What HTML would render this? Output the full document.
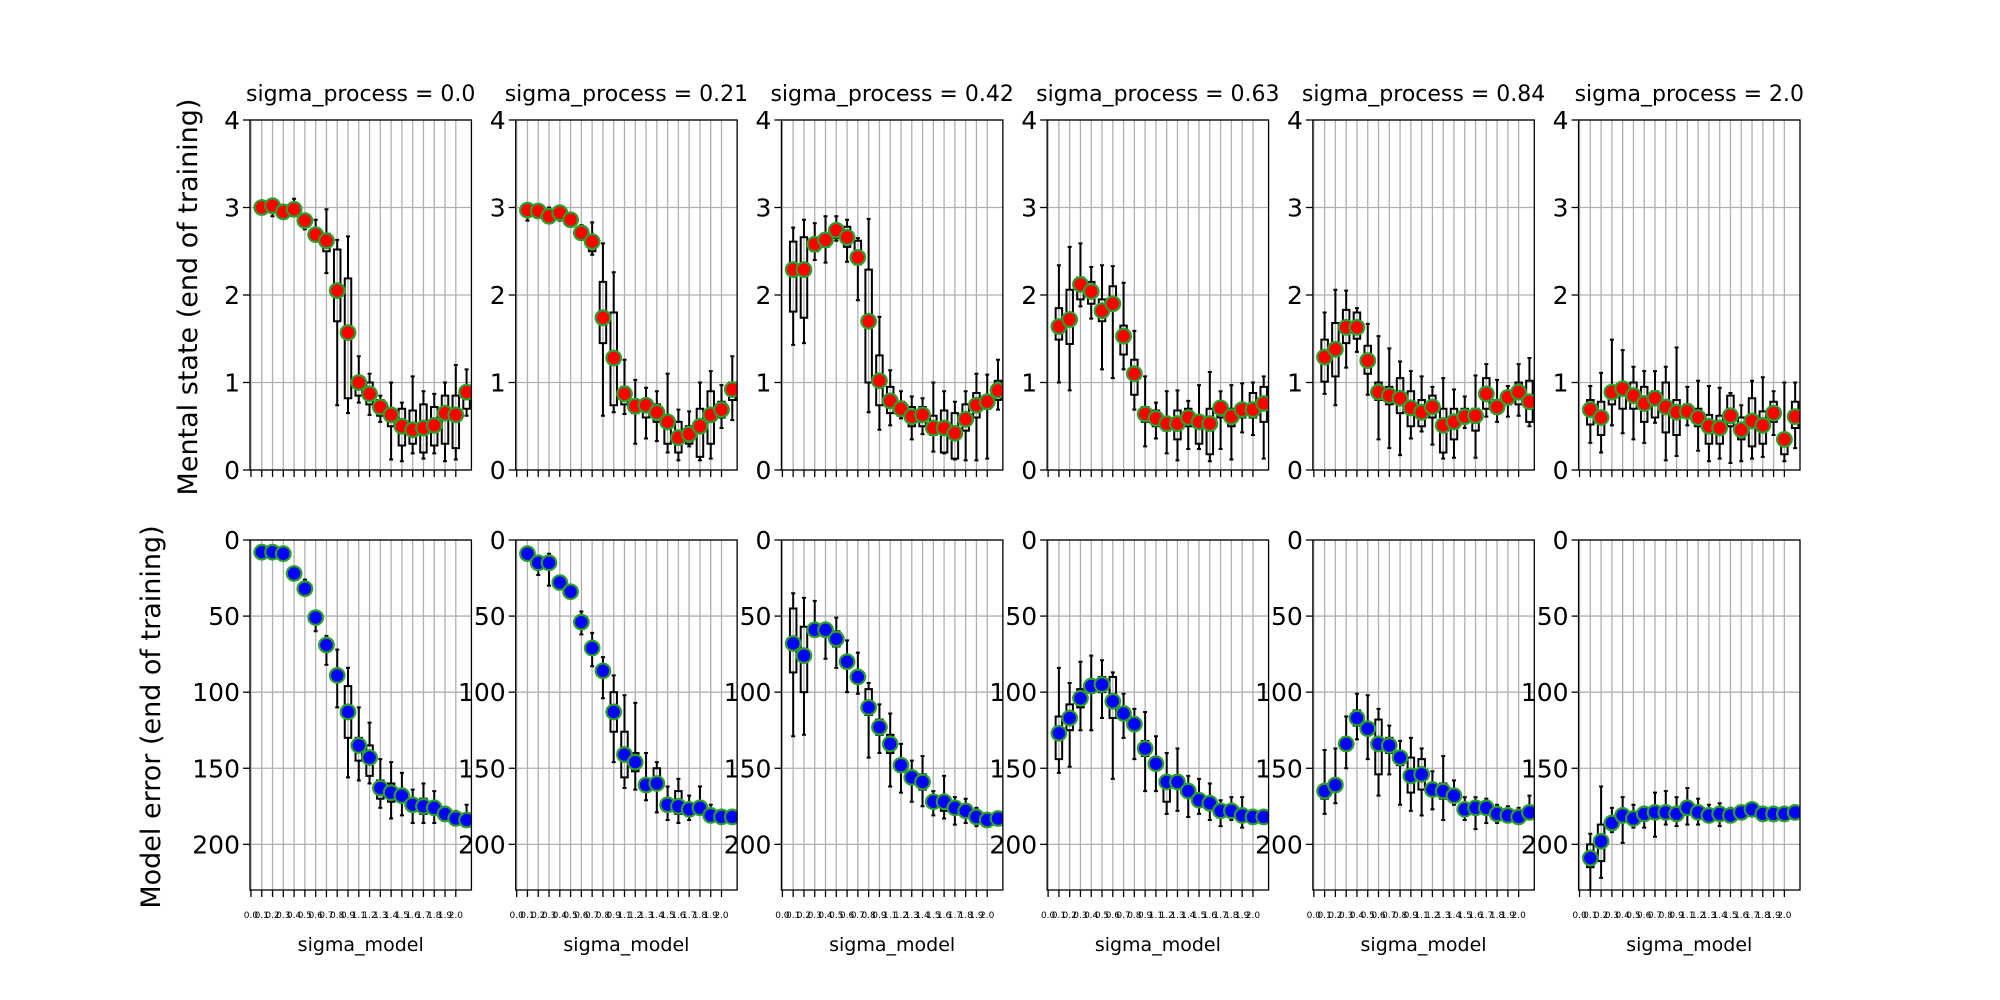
<!DOCTYPE html>
<html><head><meta charset="utf-8"><style>
html,body{margin:0;padding:0;background:#fff;}
svg{display:block;font-family:"DejaVu Sans","Liberation Sans",sans-serif;}
</style></head><body>
<svg id="fig" width="2000" height="1000" viewBox="0 0 2000 1000" xmlns="http://www.w3.org/2000/svg">
<rect width="2000" height="1000" fill="#fff"/>
</svg>
<script>
const panelTitles = ["sigma_process = 0.0","sigma_process = 0.21","sigma_process = 0.42","sigma_process = 0.63","sigma_process = 0.84","sigma_process = 2.0"];
const xTickLabels = ["0.0","0.1","0.2","0.3","0.4","0.5","0.6","0.7","0.8","0.9","1.1","1.2","1.3","1.4","1.5","1.6","1.7","1.8","1.9","2.0"];
const mentalTicks = [0,1,2,3,4];
const errorTicks = [0,50,100,150,200];

const mentalMean = [
[3.0,3.02,2.95,2.98,2.85,2.69,2.62,2.05,1.57,1.0,0.87,0.72,0.63,0.5,0.46,0.48,0.51,0.65,0.63,0.89],
[2.97,2.96,2.9,2.94,2.86,2.71,2.61,1.74,1.28,0.87,0.73,0.74,0.66,0.55,0.37,0.41,0.5,0.63,0.69,0.92],
[2.29,2.29,2.58,2.63,2.74,2.66,2.43,1.7,1.02,0.79,0.7,0.61,0.63,0.48,0.48,0.42,0.58,0.74,0.78,0.91],
[1.64,1.72,2.12,2.04,1.82,1.9,1.53,1.1,0.64,0.59,0.53,0.53,0.6,0.55,0.53,0.71,0.61,0.69,0.69,0.76],
[1.29,1.38,1.63,1.63,1.25,0.89,0.85,0.82,0.71,0.66,0.72,0.51,0.55,0.61,0.62,0.87,0.72,0.83,0.89,0.78],
[0.69,0.6,0.89,0.93,0.85,0.76,0.82,0.72,0.66,0.67,0.6,0.5,0.48,0.62,0.46,0.56,0.51,0.65,0.35,0.61]];
const mentalLo = [
[2.97,2.9,2.88,2.9,2.75,2.65,2.25,0.74,0.65,0.77,0.63,0.55,0.12,0.1,0.19,0.13,0.19,0.1,0.12,0.62],
[2.85,2.9,2.88,2.85,2.78,2.65,2.46,0.62,0.66,0.64,0.3,0.36,0.33,0.2,0.11,0.27,0.11,0.13,0.48,0.57],
[1.43,1.45,2.4,2.37,2.62,2.38,1.94,0.66,0.46,0.51,0.59,0.35,0.41,0.21,0.19,0.12,0.11,0.11,0.13,0.69],
[1.0,0.91,1.87,1.73,1.15,1.05,1.15,0.69,0.27,0.36,0.19,0.11,0.24,0.24,0.1,0.24,0.12,0.43,0.4,0.13],
[0.87,0.74,1.17,1.35,0.86,0.35,0.25,0.17,0.36,0.44,0.29,0.13,0.14,0.48,0.14,0.61,0.55,0.61,0.62,0.5],
[0.31,0.2,0.51,0.42,0.35,0.31,0.54,0.11,0.16,0.51,0.22,0.1,0.13,0.08,0.1,0.13,0.15,0.4,0.1,0.25]];
const mentalHi = [
[3.03,3.05,3.0,3.1,2.9,2.86,2.98,2.63,2.67,1.3,1.1,0.85,1.0,0.77,1.07,0.9,0.87,1.0,1.2,1.15],
[3.0,3.0,3.0,3.0,2.91,2.8,2.83,2.59,2.26,1.26,1.03,0.94,0.9,1.1,0.69,0.67,1.0,1.13,0.97,1.3],
[2.77,2.86,2.82,2.9,2.9,2.86,2.65,2.87,1.75,1.14,0.9,0.84,0.82,1.0,0.9,0.78,0.9,1.1,1.09,1.26],
[2.34,2.55,2.59,2.32,2.34,2.33,2.14,1.59,1.07,0.77,0.9,0.91,0.79,0.97,1.12,0.9,0.97,0.99,1.0,1.07],
[1.8,2.06,2.05,1.85,1.67,1.53,1.39,1.24,1.13,1.07,0.95,1.05,0.92,0.84,1.08,1.21,1.03,0.96,1.21,1.28],
[0.96,1.11,1.49,1.37,1.18,1.13,1.13,1.18,1.4,0.95,1.02,0.96,0.94,0.88,0.74,1.02,1.06,0.9,1.0,1.0]];
const mentalQ1 = [
[2.98,2.95,2.92,2.93,2.8,2.67,2.5,1.7,0.82,0.85,0.75,0.62,0.5,0.28,0.3,0.2,0.28,0.3,0.25,0.7],
[2.9,2.93,2.9,2.9,2.8,2.68,2.5,1.45,0.74,0.75,0.65,0.6,0.55,0.3,0.2,0.3,0.15,0.3,0.6,0.8],
[1.81,1.74,2.5,2.55,2.65,2.55,2.35,1.0,0.74,0.65,0.62,0.5,0.5,0.4,0.2,0.13,0.45,0.6,0.7,0.8],
[1.49,1.44,1.95,1.9,1.7,1.85,1.32,0.86,0.55,0.5,0.45,0.35,0.5,0.3,0.18,0.6,0.5,0.6,0.6,0.55],
[1.01,1.07,1.45,1.5,1.1,0.8,0.75,0.65,0.5,0.5,0.6,0.2,0.35,0.55,0.45,0.7,0.65,0.75,0.75,0.55],
[0.52,0.4,0.75,0.7,0.7,0.55,0.6,0.43,0.4,0.6,0.5,0.3,0.3,0.5,0.35,0.27,0.3,0.55,0.18,0.48]];
const mentalQ3 = [
[3.02,3.02,2.98,3.02,2.87,2.75,2.7,2.52,2.19,1.05,1.0,0.8,0.7,0.7,0.68,0.75,0.72,0.85,0.85,0.95],
[2.99,2.99,2.96,2.98,2.88,2.76,2.68,2.15,1.8,0.95,0.8,0.8,0.75,0.6,0.55,0.5,0.7,0.9,0.78,1.0],
[2.61,2.66,2.65,2.7,2.8,2.78,2.62,2.29,1.31,0.95,0.78,0.72,0.72,0.62,0.68,0.65,0.75,0.88,0.85,1.02],
[1.85,2.06,2.2,2.15,1.95,2.1,1.65,1.26,0.72,0.68,0.6,0.68,0.7,0.6,0.7,0.78,0.7,0.75,0.88,0.95],
[1.49,1.68,1.83,1.8,1.42,1.0,0.95,1.05,0.9,0.8,0.85,0.7,0.7,0.7,0.7,1.05,0.8,0.9,1.0,1.02],
[0.8,0.78,0.95,1.0,1.0,0.95,0.9,1.0,0.8,0.75,0.7,0.63,0.62,0.85,0.6,0.82,0.67,0.78,0.38,0.78]];

const errorMean = [
[8,8,9,22,32,51,69,89,113,135,143,163,166,168,174,175,176,180,183,184],
[9,15,15,28,34,54,71,86,113,141,146,161,160,174,175,177,176,181,182,182],
[68,76,59,59,65,80,90,110,123,134,148,156,159,172,172,176,178,182,184,183],
[127,117,104,96,95,106,114,121,137,147,159,159,165,171,173,178,178,181,182,182],
[165,161,134,117,124,134,135,143,155,154,164,165,168,177,176,176,180,181,182,179],
[209,198,186,181,183,180,179,179,180,176,179,181,180,181,179,177,180,180,180,179]];
const errorLo = [
[6,5,7,20,26,48,63,72,84,110,120,144,146,153,164,160,165,177,178,174],
[6,12,9,25,30,47,61,77,89,102,107,140,146,162,157,168,162,174,179,180],
[35,38,40,55,51,66,74,94,108,114,134,145,142,165,155,169,170,176,180,180],
[84,94,80,76,79,87,101,111,113,129,140,137,155,157,160,171,169,169,178,180],
[138,137,116,101,102,111,122,132,130,137,152,142,158,169,169,170,174,175,176,168],
[193,162,176,169,174,176,166,165,169,163,170,174,173,176,176,174,177,177,177,177]];
const errorHi = [
[10,11,12,25,35,60,82,110,156,158,160,176,183,181,186,186,186,184,185,184],
[12,23,30,31,38,62,83,104,146,163,164,171,179,184,186,184,180,184,184,184],
[129,128,63,78,84,100,101,143,140,162,166,172,175,181,183,187,186,188,186,186],
[153,149,125,125,117,157,130,144,165,165,180,178,182,180,184,188,184,189,186,184],
[180,173,150,131,144,168,154,174,178,181,177,184,174,184,190,186,186,185,186,182],
[230,222,192,199,189,189,195,187,188,187,187,184,188,185,183,181,183,183,183,182]];
const errorQ1 = [
[7,7,8,21,30,50,67,86,96,130,135,158,160,164,170,170,172,178,180,180],
[8,13,13,27,33,52,69,84,100,126,140,158,150,170,165,174,172,178,180,181],
[45,57,57,57,60,76,86,98,118,128,144,152,154,168,168,172,174,180,182,181],
[116,108,98,92,90,90,110,118,132,144,160,155,162,168,170,176,176,179,180,180],
[162,158,130,112,120,118,130,140,143,144,160,160,165,174,173,174,178,178,180,176],
[200,187,183,178,180,178,177,177,178,174,177,179,178,179,178,176,178,178,178,177]];
const errorQ3 = [
[9,9,10,23,33,53,72,92,130,145,155,170,172,172,178,180,180,182,185,186],
[10,17,17,29,36,56,74,89,126,156,152,164,158,178,180,180,180,183,183,183],
[87,100,62,62,70,84,94,115,128,140,152,160,164,176,178,180,182,184,185,185],
[144,125,110,100,100,117,118,124,142,150,172,162,168,174,176,180,180,183,184,184],
[170,165,138,122,128,154,140,148,166,164,168,170,172,180,179,178,182,183,184,182],
[215,211,189,184,186,182,182,182,183,180,182,183,183,183,181,180,182,182,182,181]];

const NS = "http://www.w3.org/2000/svg";
const svg = document.getElementById("fig");
function mk(tag, attrs, parent) {
  const e = document.createElementNS(NS, tag);
  for (const k in attrs) e.setAttribute(k, attrs[k]);
  parent.appendChild(e);
  return e;
}
const AX_W = 221.43, AX_H = 350, STEP = 265.714;
const XMIN = -0.09, XMAX = 20.45;

function drawPanel(k, row) {
  const left = 250 + k * STEP;
  const top = row === 0 ? 120 : 540;
  const g = mk("g", {}, svg);
  
  
  const xs = p => left + (p - XMIN) / (XMAX - XMIN) * AX_W;
  const ys = row === 0 ? (v => top + (4 - v) / 4 * AX_H) : (v => top + v / 230 * AX_H);
  const ticks = row === 0 ? mentalTicks : errorTicks;
  const mean = row === 0 ? mentalMean[k] : errorMean[k];
  const lo = row === 0 ? mentalLo[k] : errorLo[k];
  const hi = row === 0 ? mentalHi[k] : errorHi[k];
  const q1 = row === 0 ? mentalQ1[k] : errorQ1[k];
  const q3 = row === 0 ? mentalQ3[k] : errorQ3[k];

  const grid = mk("g", {stroke: "#b0b0b0", "stroke-width": 1.3}, g);
  
  
  xTickLabels.forEach((t, p) => { mk("line", {x1: xs(p), x2: xs(p), y1: top, y2: top + AX_H}, grid); });
  ticks.forEach(v => { mk("line", {x1: left, x2: left + AX_W, y1: ys(v), y2: ys(v)}, grid); });

  const cid = "clip" + row + k;
  const cp = mk("clipPath", {id: cid}, g);
  mk("rect", {x: left, y: top, width: AX_W, height: AX_H}, cp);
  const plot = mk("g", {"clip-path": "url(#" + cid + ")"}, g);

  const bw = 6.5;
  mean.forEach((m, i) => {
    const x = xs(i + 1);
    const bg = mk("g", {stroke: "#000", "stroke-width": 2, fill: "none"}, plot);
    
    
    const yq1 = ys(q1[i]), yq3 = ys(q3[i]);
    mk("rect", {x: x - bw / 2, y: Math.min(yq1, yq3), width: bw, height: Math.abs(yq1 - yq3)}, bg);
    mk("line", {x1: x, x2: x, y1: ys(lo[i]), y2: yq1}, bg);
    mk("line", {x1: x, x2: x, y1: yq3, y2: ys(hi[i])}, bg);
    mk("line", {x1: x - 2, x2: x + 2, y1: ys(lo[i]), y2: ys(lo[i])}, bg);
    mk("line", {x1: x - 2, x2: x + 2, y1: ys(hi[i]), y2: ys(hi[i])}, bg);
  });
  mean.forEach((m, i) => {
    const c = mk("circle", {cx: xs(i + 1), cy: ys(m), r: 7.3, fill: row === 0 ? "#ff0000" : "#0000ff", stroke: "#2ca02c", "stroke-width": 2.2}, plot);
    
    
  });

  const fr = mk("rect", {x: left, y: top, width: AX_W, height: AX_H, fill: "none", stroke: "#000", "stroke-width": 1.3}, g);
  
  

  const xt = mk("g", {}, g);
  
  
  xTickLabels.forEach((t, p) => {
    mk("line", {x1: xs(p), x2: xs(p), y1: top + AX_H, y2: top + AX_H + 7, stroke: "#000", "stroke-width": 1.3}, xt);
    if (row === 1) {
      const tx = mk("text", {x: xs(p), y: top + AX_H + 28, "font-size": 9, "text-anchor": "middle", fill: "#000"}, xt);
      tx.textContent = t;
    }
  });
  const yt = mk("g", {}, g);
  
  
  ticks.forEach(v => {
    mk("line", {x1: left - 7, x2: left, y1: ys(v), y2: ys(v), stroke: "#000", "stroke-width": 1.3}, yt);
    const tx = mk("text", {x: left - 10, y: ys(v) + 9, "font-size": 25, "text-anchor": "end", fill: "#000"}, yt);
    tx.textContent = v;
  });

  if (row === 0) {
    const tt = mk("text", {x: left + AX_W / 2, y: 101, "font-size": 22, "text-anchor": "middle", fill: "#000"}, g);
    
    
    tt.textContent = panelTitles[k];
  } else {
    const xl = mk("text", {x: left + AX_W / 2, y: 951, "font-size": 19, "text-anchor": "middle", fill: "#000"}, g);
    
    
    xl.textContent = "sigma_model";
  }
}
for (let k = 0; k < 6; k++) { drawPanel(k, 0); drawPanel(k, 1); }

const yl1 = mk("text", {x: 0, y: 0, "font-size": 27, "text-anchor": "middle", fill: "#000", transform: "translate(197,297) rotate(-90)"}, svg);


yl1.textContent = "Mental state (end of training)";
const yl2 = mk("text", {x: 0, y: 0, "font-size": 27, "text-anchor": "middle", fill: "#000", transform: "translate(160,717) rotate(-90)"}, svg);


yl2.textContent = "Model error (end of training)";
</script>
</body></html>
